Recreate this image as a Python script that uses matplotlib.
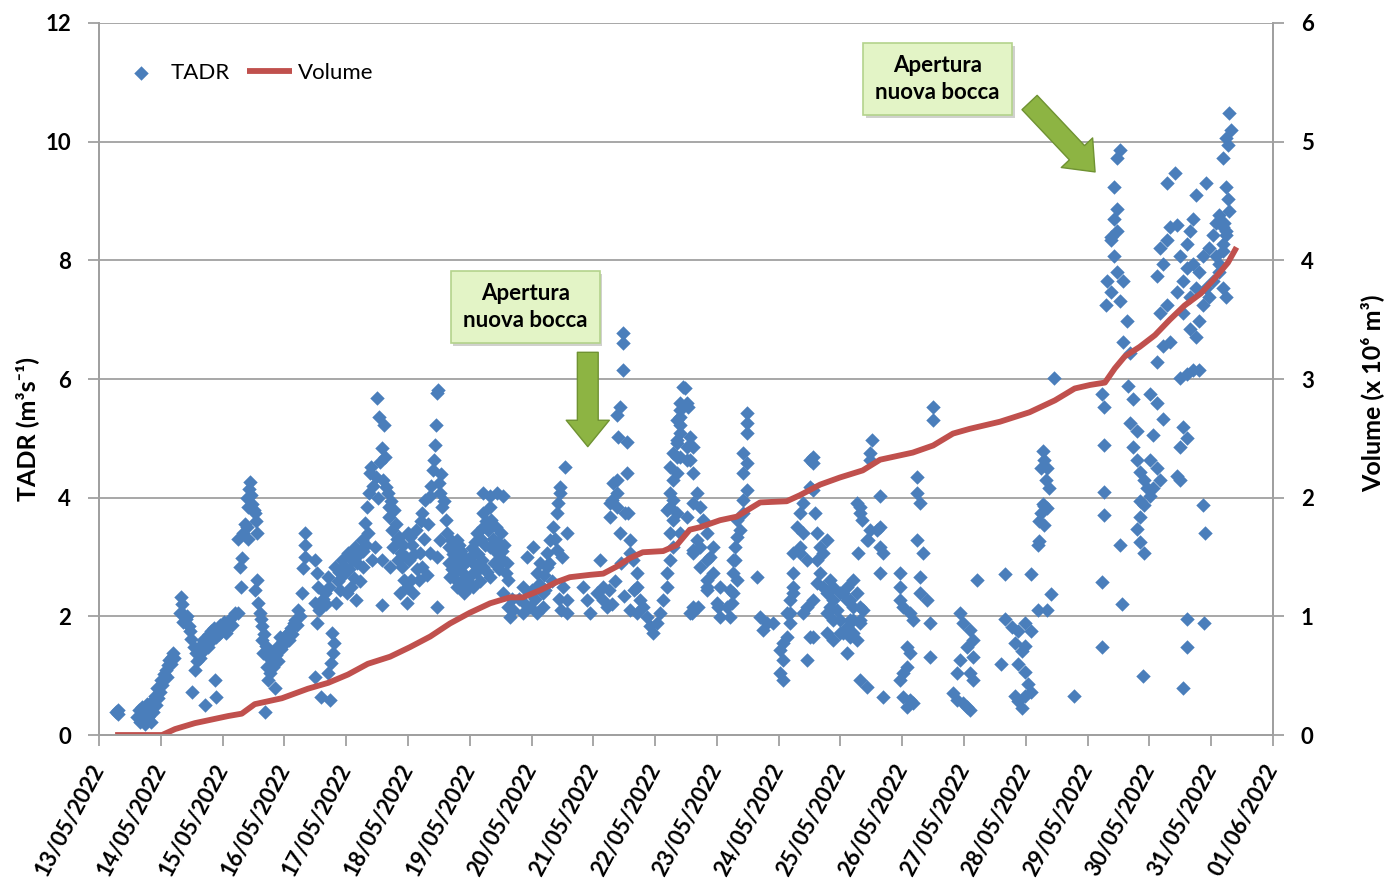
import matplotlib.pyplot as plt
import matplotlib.dates as mdates
import matplotlib.patheffects as pe
import numpy as np
import pandas as pd

plt.rcParams['font.family'] = ['Lato', 'DejaVu Sans']

t0 = pd.Timestamp('2022-05-13')
t_end = pd.Timestamp('2022-06-01')

# TADR readings as (days since 13/05/2022 00:00, m3/s), one list per day
tadr_13_05 = [(0.28, 0.39), (0.30, 0.35), (0.31, 0.42), (0.62, 0.30), (0.64, 0.42), (0.66, 0.22),
              (0.68, 0.36), (0.70, 0.48), (0.72, 0.27), (0.74, 0.18), (0.76, 0.40), (0.78, 0.52),
              (0.80, 0.30), (0.82, 0.45), (0.84, 0.22), (0.86, 0.58), (0.88, 0.38), (0.90, 0.66),
              (0.92, 0.50), (0.94, 0.80), (0.96, 0.62), (0.98, 0.72)]
tadr_14_05 = [(1.00, 0.93), (1.02, 0.85), (1.05, 1.02), (1.08, 1.10), (1.10, 0.98), (1.12, 1.18),
              (1.14, 1.26), (1.16, 1.20), (1.18, 1.32), (1.20, 1.38), (1.22, 1.30), (1.31, 2.06),
              (1.33, 2.33), (1.34, 2.20), (1.36, 1.90), (1.38, 2.02), (1.40, 1.95), (1.43, 2.00),
              (1.45, 1.83), (1.47, 1.75), (1.49, 1.62), (1.50, 0.73), (1.53, 1.48), (1.55, 1.10),
              (1.57, 1.38), (1.59, 1.25), (1.61, 1.45), (1.63, 1.30), (1.65, 1.52), (1.67, 1.40),
              (1.69, 1.60), (1.71, 0.50), (1.72, 1.55), (1.74, 1.66), (1.76, 1.48), (1.78, 1.70),
              (1.80, 1.58), (1.82, 1.75), (1.84, 1.62), (1.86, 1.80), (1.88, 0.93), (1.89, 0.64),
              (1.90, 1.66), (1.92, 1.78), (1.94, 1.70), (1.96, 1.86), (1.98, 1.75)]
tadr_15_05 = [(2.02, 1.90), (2.05, 1.72), (2.08, 1.83), (2.12, 1.95), (2.15, 1.85), (2.20, 2.06),
              (2.25, 2.06), (2.25, 3.30), (2.28, 2.83), (2.30, 2.50), (2.31, 2.98), (2.33, 3.40),
              (2.36, 3.55), (2.39, 3.50), (2.39, 4.00), (2.41, 3.85), (2.41, 3.30), (2.43, 4.15),
              (2.44, 4.27), (2.46, 4.05), (2.48, 3.90), (2.50, 3.80), (2.52, 3.75), (2.54, 3.60),
              (2.56, 3.40), (2.52, 2.45), (2.55, 2.62), (2.57, 2.22), (2.60, 2.05), (2.62, 1.95),
              (2.64, 1.83), (2.64, 1.60), (2.65, 1.38), (2.67, 1.70), (2.69, 0.39), (2.70, 1.50),
              (2.72, 1.15), (2.73, 0.93), (2.75, 1.30), (2.77, 1.05), (2.78, 1.40), (2.80, 1.26),
              (2.82, 1.15), (2.85, 0.80), (2.86, 1.35), (2.88, 1.48), (2.90, 1.25), (2.93, 1.65),
              (2.95, 1.45), (2.97, 1.58)]
tadr_16_05 = [(3.01, 1.55), (3.03, 1.68), (3.06, 1.72), (3.08, 1.60), (3.10, 1.80), (3.13, 1.70),
              (3.15, 1.88), (3.17, 1.94), (3.20, 1.85), (3.22, 2.10), (3.25, 2.00), (3.28, 2.39),
              (3.30, 2.82), (3.33, 3.00), (3.33, 3.20), (3.34, 3.40), (3.50, 2.95), (3.50, 0.98),
              (3.53, 2.73), (3.55, 2.50), (3.50, 2.22), (3.53, 1.89), (3.56, 2.10), (3.60, 0.64),
              (3.62, 2.30), (3.66, 2.39), (3.68, 2.20), (3.70, 2.66), (3.70, 1.04), (3.72, 2.50),
              (3.74, 0.59), (3.75, 1.21), (3.77, 1.72), (3.78, 1.38), (3.80, 1.55), (3.82, 2.83),
              (3.84, 2.22), (3.86, 2.60), (3.88, 2.75), (3.90, 2.45), (3.93, 2.95), (3.95, 2.70),
              (3.97, 2.85)]
tadr_17_05 = [(4.01, 2.39), (4.03, 3.07), (4.05, 2.80), (4.07, 2.50), (4.09, 2.95), (4.12, 2.65),
              (4.14, 3.17), (4.16, 2.28), (4.18, 2.90), (4.20, 3.05), (4.22, 2.60), (4.25, 3.29),
              (4.27, 2.83), (4.28, 3.10), (4.30, 3.58), (4.32, 3.20), (4.34, 3.85), (4.35, 3.40),
              (4.37, 4.08), (4.38, 4.42), (4.40, 4.52), (4.42, 2.95), (4.44, 4.20), (4.46, 3.17),
              (4.48, 4.35), (4.50, 5.68), (4.52, 4.00), (4.53, 5.36), (4.55, 4.60), (4.58, 4.84),
              (4.58, 2.19), (4.58, 2.95), (4.60, 4.30), (4.62, 5.23), (4.63, 4.69), (4.65, 4.18),
              (4.67, 4.08), (4.69, 3.85), (4.70, 3.68), (4.72, 3.95), (4.74, 3.46), (4.76, 3.17),
              (4.78, 3.80), (4.80, 3.55), (4.82, 3.30), (4.84, 2.95), (4.86, 3.34), (4.88, 3.07),
              (4.90, 2.83), (4.92, 3.20), (4.94, 2.61), (4.96, 3.00), (4.98, 2.50), (4.87, 2.39),
              (4.98, 2.22), (4.71, 2.83)]
tadr_18_05 = [(5.00, 3.40), (5.02, 2.95), (5.03, 3.34), (5.05, 2.61), (5.07, 3.20), (5.08, 2.39),
              (5.10, 3.05), (5.13, 3.46), (5.15, 2.80), (5.18, 2.61), (5.19, 3.07), (5.21, 3.60),
              (5.23, 3.74), (5.23, 2.83), (5.26, 3.30), (5.28, 3.96), (5.30, 2.70), (5.33, 3.55),
              (5.36, 4.02), (5.36, 3.07), (5.38, 4.20), (5.40, 4.47), (5.42, 4.64), (5.43, 4.89),
              (5.45, 5.23), (5.47, 5.77), (5.49, 5.82), (5.47, 2.16), (5.47, 3.00), (5.50, 4.25),
              (5.52, 4.08), (5.52, 3.29), (5.54, 4.40), (5.55, 3.85), (5.58, 3.95), (5.61, 3.63),
              (5.63, 3.40), (5.66, 3.17), (5.66, 2.90), (5.69, 3.29), (5.71, 2.80), (5.73, 3.05),
              (5.75, 2.65), (5.77, 3.07), (5.78, 2.95), (5.80, 2.78), (5.82, 3.20), (5.84, 2.56),
              (5.86, 3.10), (5.88, 2.85), (5.90, 3.00), (5.90, 2.39), (5.92, 2.70), (5.95, 2.61),
              (5.97, 2.95), (5.99, 2.50), (5.68, 2.66), (5.79, 2.50), (5.89, 2.95), (5.79, 3.29)]
tadr_19_05 = [(6.00, 3.00), (6.02, 2.70), (6.04, 3.15), (6.06, 2.90), (6.08, 3.25), (6.10, 2.75),
              (6.12, 3.40), (6.14, 3.05), (6.16, 2.60), (6.18, 3.30), (6.20, 2.95), (6.21, 3.50),
              (6.21, 4.08), (6.21, 3.74), (6.21, 2.83), (6.24, 3.20), (6.26, 3.60), (6.28, 2.75),
              (6.30, 3.45), (6.32, 4.02), (6.33, 3.85), (6.33, 3.17), (6.33, 2.66), (6.35, 3.63),
              (6.38, 3.30), (6.40, 2.90), (6.42, 3.50), (6.44, 4.08), (6.44, 3.07), (6.46, 3.25),
              (6.48, 2.80), (6.50, 3.40), (6.52, 3.10), (6.54, 4.02), (6.54, 2.95), (6.54, 2.39),
              (6.56, 3.20), (6.58, 2.73), (6.60, 2.90), (6.62, 2.61), (6.62, 2.16), (6.65, 1.99),
              (6.68, 2.30), (6.70, 2.10), (6.05, 2.50), (6.12, 2.83)]
tadr_20_05 = [(6.80, 2.30), (6.86, 2.50), (6.86, 2.06), (6.90, 2.20), (6.93, 3.00), (6.97, 2.16),
              (6.97, 2.39), (7.00, 2.45), (7.02, 3.17), (7.05, 2.30), (7.09, 2.06), (7.09, 2.73),
              (7.12, 2.55), (7.14, 2.90), (7.18, 2.16), (7.18, 2.39), (7.20, 2.70), (7.22, 2.45),
              (7.25, 3.07), (7.25, 2.83), (7.28, 2.90), (7.30, 3.29), (7.33, 2.60), (7.35, 3.50),
              (7.38, 3.30), (7.41, 3.74), (7.41, 3.12), (7.43, 3.91), (7.44, 2.30), (7.46, 4.08),
              (7.46, 4.18), (7.48, 2.10), (7.50, 3.00), (7.51, 2.50), (7.54, 4.52), (7.57, 3.40),
              (7.57, 2.28), (7.57, 2.06), (7.83, 2.50), (7.90, 2.28), (7.95, 2.06)]
tadr_21_05 = [(8.06, 2.39), (8.11, 2.95), (8.16, 2.50), (8.16, 2.28), (8.22, 2.16), (8.25, 2.45),
              (8.27, 3.68), (8.27, 3.91), (8.30, 3.96), (8.30, 2.20), (8.32, 4.25), (8.35, 2.60),
              (8.38, 5.40), (8.38, 4.30), (8.38, 3.85), (8.38, 4.08), (8.40, 5.03), (8.43, 5.53),
              (8.43, 3.40), (8.45, 2.90), (8.48, 6.78), (8.48, 6.60), (8.48, 6.16), (8.50, 2.35),
              (8.51, 3.74), (8.54, 4.94), (8.54, 4.42), (8.56, 3.74), (8.59, 3.29), (8.59, 3.07),
              (8.60, 2.10), (8.64, 2.95), (8.65, 2.45), (8.70, 2.05), (8.71, 2.73), (8.71, 2.50),
              (8.75, 2.28), (8.80, 2.16), (8.87, 1.99), (8.92, 1.83), (8.96, 1.72)]
tadr_22_05 = [(9.03, 1.89), (9.08, 2.06), (9.13, 2.28), (9.19, 2.50), (9.19, 2.73), (9.19, 3.80),
              (9.24, 2.95), (9.24, 3.40), (9.24, 3.85), (9.24, 4.08), (9.24, 4.52), (9.29, 3.17),
              (9.29, 3.63), (9.29, 4.30), (9.29, 4.76), (9.29, 3.96), (9.35, 4.69), (9.35, 4.92),
              (9.35, 5.31), (9.35, 4.97), (9.35, 4.42), (9.35, 3.74), (9.40, 5.09), (9.40, 5.48),
              (9.40, 5.60), (9.40, 5.36), (9.40, 5.23), (9.40, 4.69), (9.40, 3.40), (9.45, 5.87),
              (9.48, 5.85), (9.51, 5.60), (9.51, 4.64), (9.51, 4.86), (9.51, 3.68), (9.53, 5.53),
              (9.56, 5.03), (9.56, 4.64), (9.56, 2.06), (9.60, 2.06), (9.61, 4.86), (9.61, 4.42),
              (9.61, 3.91), (9.61, 3.12), (9.61, 3.07), (9.61, 2.16), (9.68, 4.08), (9.68, 3.29),
              (9.69, 2.16), (9.72, 3.85), (9.72, 3.17), (9.72, 2.83), (9.77, 3.63), (9.84, 3.40),
              (9.84, 2.95), (9.84, 2.61), (9.84, 2.50), (9.84, 2.45), (9.89, 3.00), (9.94, 3.17),
              (9.94, 2.73)]
tadr_23_05 = [(10.00, 2.22), (10.02, 2.16), (10.05, 2.50), (10.05, 1.99), (10.16, 2.16), (10.21, 1.99),
              (10.21, 2.45), (10.24, 2.22), (10.26, 2.39), (10.26, 2.73), (10.26, 2.95), (10.29, 3.17),
              (10.29, 2.95), (10.32, 3.34), (10.32, 2.61), (10.32, 3.63), (10.37, 3.46), (10.42, 3.74),
              (10.42, 3.96), (10.42, 4.42), (10.42, 4.76), (10.49, 4.13), (10.49, 4.59), (10.49, 5.09),
              (10.49, 5.26), (10.49, 5.43), (10.65, 2.66), (10.70, 1.99), (10.74, 1.77), (10.81, 1.89),
              (10.91, 1.89), (11.02, 1.43), (11.02, 1.04), (11.07, 1.26), (11.07, 0.93), (11.07, 1.55),
              (11.13, 1.65), (11.13, 2.06), (11.18, 2.06), (11.18, 1.89), (11.18, 2.28)]
tadr_24_05 = [(11.23, 2.39), (11.23, 2.73), (11.23, 3.07), (11.23, 2.50), (11.29, 3.50), (11.34, 3.17),
              (11.34, 3.74), (11.34, 3.07), (11.39, 3.40), (11.39, 3.91), (11.39, 2.06), (11.46, 1.26),
              (11.46, 2.16), (11.46, 2.95), (11.50, 4.18), (11.50, 4.64), (11.50, 1.65), (11.55, 4.69),
              (11.55, 4.59), (11.55, 4.13), (11.55, 2.28), (11.55, 1.65), (11.59, 3.74), (11.62, 3.40),
              (11.62, 2.95), (11.62, 2.56), (11.67, 3.17), (11.67, 2.73), (11.72, 2.50), (11.72, 3.07),
              (11.78, 2.39), (11.78, 3.29), (11.78, 2.06), (11.78, 1.72), (11.83, 2.61), (11.83, 2.16),
              (11.88, 2.28), (11.88, 1.94), (11.88, 2.50), (11.88, 1.60), (11.94, 2.10), (11.99, 1.94),
              (11.99, 2.39), (11.99, 1.72)]
tadr_25_05 = [(12.04, 1.72), (12.04, 2.39), (12.10, 1.38), (12.10, 2.28), (12.10, 2.50), (12.10, 1.82),
              (12.15, 1.94), (12.15, 2.28), (12.15, 1.65), (12.20, 2.16), (12.20, 1.72), (12.20, 2.61),
              (12.20, 1.94), (12.27, 1.60), (12.27, 3.91), (12.27, 2.39), (12.28, 3.07), (12.31, 1.94),
              (12.31, 3.74), (12.31, 0.93), (12.31, 2.16), (12.31, 1.89), (12.31, 3.85), (12.34, 3.63),
              (12.36, 2.10), (12.43, 3.29), (12.43, 0.81), (12.44, 3.29), (12.48, 3.46), (12.48, 4.76),
              (12.48, 4.64), (12.51, 4.97), (12.59, 3.46), (12.64, 4.02), (12.64, 3.17), (12.64, 3.50),
              (12.64, 2.73), (12.69, 3.07), (12.69, 0.64)]
tadr_26_05 = [(12.96, 2.73), (12.96, 2.50), (12.96, 2.28), (12.96, 0.93), (13.01, 2.16), (13.01, 1.04),
              (13.01, 0.64), (13.07, 1.48), (13.07, 1.15), (13.07, 0.47), (13.12, 2.06), (13.12, 1.38),
              (13.12, 0.59), (13.17, 1.94), (13.17, 0.54), (13.24, 4.35), (13.24, 4.08), (13.24, 3.29),
              (13.28, 3.91), (13.28, 2.66), (13.28, 2.39), (13.33, 3.07), (13.40, 2.28), (13.45, 1.89),
              (13.45, 1.31), (13.50, 5.53), (13.50, 5.31)]
tadr_27_05 = [(13.82, 0.70), (13.88, 1.04), (13.88, 0.59), (13.93, 2.06), (13.93, 1.26), (13.98, 1.89),
              (13.98, 0.54), (14.05, 1.48), (14.05, 0.47), (14.09, 1.77), (14.09, 1.04), (14.09, 0.42),
              (14.14, 1.60), (14.14, 1.31), (14.14, 0.93), (14.21, 2.61)]
tadr_28_05 = [(14.60, 1.20), (14.66, 2.71), (14.66, 1.96), (14.77, 1.82), (14.82, 1.55), (14.82, 0.65),
              (14.88, 1.75), (14.88, 1.20), (14.88, 0.58), (14.93, 1.41), (14.93, 0.45), (14.99, 1.89),
              (14.99, 1.50), (14.99, 1.07), (14.99, 0.65), (15.04, 0.86), (15.09, 1.75), (15.09, 0.72),
              (15.09, 2.71), (15.19, 2.10), (15.19, 3.20), (15.22, 3.27), (15.22, 3.60), (15.25, 3.75),
              (15.25, 4.50), (15.28, 3.90), (15.28, 4.78), (15.30, 3.86), (15.30, 4.64), (15.30, 3.54),
              (15.33, 4.30), (15.35, 4.50), (15.35, 3.82), (15.35, 2.10), (15.38, 4.16), (15.41, 2.37),
              (15.46, 6.01), (15.78, 0.65)]
tadr_29_05 = [(16.24, 1.48), (16.24, 2.58), (16.24, 5.74), (16.26, 3.71), (16.26, 4.09), (16.26, 4.88),
              (16.26, 5.53), (16.29, 7.25), (16.32, 7.66), (16.37, 7.46), (16.37, 8.35), (16.37, 8.40),
              (16.43, 8.08), (16.43, 8.69), (16.43, 9.24), (16.48, 7.80), (16.48, 8.49), (16.48, 8.87),
              (16.48, 9.73), (16.53, 9.86), (16.53, 7.32), (16.53, 3.20), (16.56, 2.20), (16.58, 7.66),
              (16.58, 6.63), (16.64, 6.98), (16.66, 5.88), (16.69, 6.43), (16.69, 5.26), (16.74, 5.67),
              (16.74, 4.85), (16.80, 5.12), (16.80, 4.64), (16.80, 3.47), (16.85, 4.43), (16.85, 3.68),
              (16.85, 3.26), (16.85, 3.95), (16.90, 1.00), (16.91, 4.30), (16.91, 3.88), (16.91, 3.06),
              (16.96, 4.16)]
tadr_30_05 = [(17.01, 4.02), (17.01, 4.64), (17.01, 5.74), (17.06, 4.16), (17.06, 5.05), (17.12, 4.50),
              (17.12, 5.60), (17.12, 6.29), (17.12, 7.73), (17.17, 4.30), (17.17, 7.11), (17.17, 8.21),
              (17.22, 5.33), (17.22, 6.56), (17.22, 7.94), (17.28, 7.25), (17.28, 8.35), (17.28, 9.31),
              (17.33, 6.63), (17.33, 8.56), (17.41, 9.48), (17.44, 8.60), (17.44, 4.36), (17.44, 7.46),
              (17.49, 4.30), (17.49, 4.85), (17.49, 6.01), (17.49, 8.08), (17.55, 5.19), (17.55, 0.79),
              (17.55, 7.11), (17.55, 7.66), (17.60, 5.00), (17.60, 6.08), (17.60, 1.96), (17.60, 1.48),
              (17.60, 7.87), (17.60, 8.28), (17.65, 8.49), (17.65, 6.84), (17.65, 7.39), (17.71, 6.15),
              (17.71, 8.69), (17.71, 7.94), (17.76, 9.10), (17.76, 6.70), (17.76, 7.53), (17.81, 6.15),
              (17.81, 6.98), (17.81, 7.80), (17.87, 3.88), (17.87, 8.08), (17.87, 7.25), (17.89, 1.89),
              (17.90, 3.40), (17.92, 9.31), (17.92, 7.53), (17.97, 8.21), (17.97, 7.39)]
tadr_31_05 = [(18.03, 8.42), (18.03, 7.66), (18.08, 8.63), (18.08, 8.08), (18.13, 8.76), (18.13, 7.80),
              (18.13, 7.94), (18.19, 8.56), (18.19, 8.28), (18.19, 7.53), (18.19, 8.15), (18.19, 9.73),
              (18.21, 8.63), (18.24, 8.49), (18.24, 7.39), (18.24, 9.24), (18.24, 10.07), (18.24, 8.42),
              (18.27, 9.95), (18.27, 9.04), (18.29, 10.48), (18.29, 8.83), (18.32, 10.20)]

# cumulative erupted volume (days since start, 10^6 m3)
vol_days = [0.26, 1.02, 1.23, 1.55, 2.09, 2.31, 2.52, 2.96, 3.38, 3.71, 4.03, 4.35, 4.71, 5.03,
            5.36, 5.68, 6.00, 6.33, 6.65, 6.86, 7.14, 7.41, 7.62, 7.95, 8.16, 8.38, 8.59, 8.80,
            9.13, 9.35, 9.56, 9.72, 10.05, 10.32, 10.70, 11.13, 11.34, 11.67, 11.99, 12.36, 12.64,
            13.17, 13.50, 13.82, 14.09, 14.58, 15.06, 15.47, 15.79, 16.04, 16.28, 16.44, 16.60,
            16.84, 17.09, 17.33, 17.57, 17.83, 18.06, 18.27, 18.41]
vol_values = [0.00, 0.00, 0.05, 0.10, 0.16, 0.18, 0.26, 0.31, 0.39, 0.44, 0.51, 0.60, 0.66, 0.74,
              0.83, 0.94, 1.03, 1.11, 1.16, 1.16, 1.22, 1.29, 1.33, 1.35, 1.36, 1.42, 1.49, 1.54,
              1.55, 1.60, 1.73, 1.75, 1.81, 1.84, 1.96, 1.97, 2.02, 2.11, 2.17, 2.23, 2.32,
              2.38, 2.44, 2.54, 2.58, 2.64, 2.72, 2.82, 2.92, 2.95, 2.97, 3.09, 3.19,
              3.27, 3.37, 3.50, 3.62, 3.72, 3.85, 3.98, 4.11]

# opening of new vents (days since start)
vent_days = [7.91, 16.12]

tadr = np.array(tadr_13_05 + tadr_14_05 + tadr_15_05 + tadr_16_05 + tadr_17_05 + tadr_18_05
                + tadr_19_05 + tadr_20_05 + tadr_21_05 + tadr_22_05 + tadr_23_05 + tadr_24_05
                + tadr_25_05 + tadr_26_05 + tadr_27_05 + tadr_28_05 + tadr_29_05 + tadr_30_05
                + tadr_31_05)
tadr_time = t0 + pd.to_timedelta(tadr[:, 0], unit='D')
vol_time = t0 + pd.to_timedelta(vol_days, unit='D')

grey = '#a0a0a0'

fig = plt.figure(figsize=(13.89, 8.81), dpi=100)
ax = fig.add_axes([0.0713, 0.1657, 0.8452, 0.8082])
ax2 = ax.twinx()

sc = ax.scatter(tadr_time, tadr[:, 1], marker='D', s=54, color='#4a7ebb', linewidths=0,
                zorder=3, label='TADR')
ln, = ax2.plot(vol_time, vol_values, color='#c0504d', lw=4.2, solid_capstyle='butt',
               label='Volume')

ax.set_xlim(t0, t_end)
ax.set_ylim(0, 12)
ax2.set_ylim(0, 6)
ax.set_yticks(np.arange(0, 13, 2))
ax2.set_yticks(np.arange(0, 7, 1))
ax.xaxis.set_major_locator(mdates.DayLocator())
ax.xaxis.set_major_formatter(mdates.DateFormatter('%d/%m/%Y'))

ax.grid(axis='y', color=grey, lw=1.3)
ax.set_axisbelow(True)
for a in (ax, ax2):
    a.spines['top'].set_visible(False)
    for s in ('left', 'right', 'bottom'):
        a.spines[s].set_color(grey)
        a.spines[s].set_linewidth(1.3)
    a.tick_params(axis='both', color=grey, width=1.3, length=8, labelsize=16)
    for lbl in a.get_yticklabels():
        lbl.set_fontweight('bold')

ax.tick_params(axis='y', pad=12)
ax2.tick_params(axis='y', pad=12)
for lbl in ax.get_xticklabels():
    lbl.set_fontweight('bold')
    lbl.set_rotation(62)
    lbl.set_ha('right')
    lbl.set_va('center')
    lbl.set_rotation_mode('anchor')
ax.tick_params(axis='x', pad=14)

ax.set_ylabel('TADR (m³s⁻¹)', fontsize=18, fontweight='bold')
ax.yaxis.set_label_coords(-0.051, 0.43)
ax2.set_ylabel('Volume (x 10⁶ m³)', fontsize=18, fontweight='bold')
ax2.yaxis.set_label_coords(1.074, 0.48)

ax2.legend(handles=[sc, ln], loc='center left', bbox_to_anchor=(0.0, 0.93), ncol=2,
           frameon=False, fontsize=16, handlelength=2.0, handletextpad=0.3,
           columnspacing=0.8, markerscale=1.0)

# callouts marking the new vent openings
box_kw = dict(boxstyle='square,pad=0.55', fc='#e3f4c6', ec='#b4d38c', lw=1.2)
arrow_kw = dict(arrowstyle='simple,head_length=0.95,head_width=1.55,tail_width=0.75',
                fc='#8db443', ec='#6f9232', lw=1.0, shrinkA=0, shrinkB=0, mutation_scale=20)

vent_x = [mdates.date2num(t0 + pd.Timedelta(days=d)) for d in vent_days]
ax2.annotate('', xy=(vent_x[0], 4.86), xycoords=ax.transData,
             xytext=(vent_x[0], 6.45), textcoords=ax.transData, arrowprops=arrow_kw, zorder=5)
ax2.annotate('', xy=(vent_x[1], 9.49), xycoords=ax.transData,
             xytext=(mdates.date2num(t0 + pd.Timedelta(days=15.06)), 10.66),
             textcoords=ax.transData, arrowprops=arrow_kw, zorder=5)

for bx, by in [(0.363, 0.601), (0.714, 0.921)]:
    t = ax2.text(bx, by, 'Apertura\nnuova bocca', transform=ax.transAxes, ha='center',
                 va='center', fontsize=16, fontweight='bold', linespacing=1.35, bbox=box_kw,
                 zorder=6)
    t.get_bbox_patch().set_path_effects([pe.SimplePatchShadow(offset=(2, -2), alpha=0.25),
                                         pe.Normal()])

fig.savefig('out.png', dpi=100, facecolor='white')
